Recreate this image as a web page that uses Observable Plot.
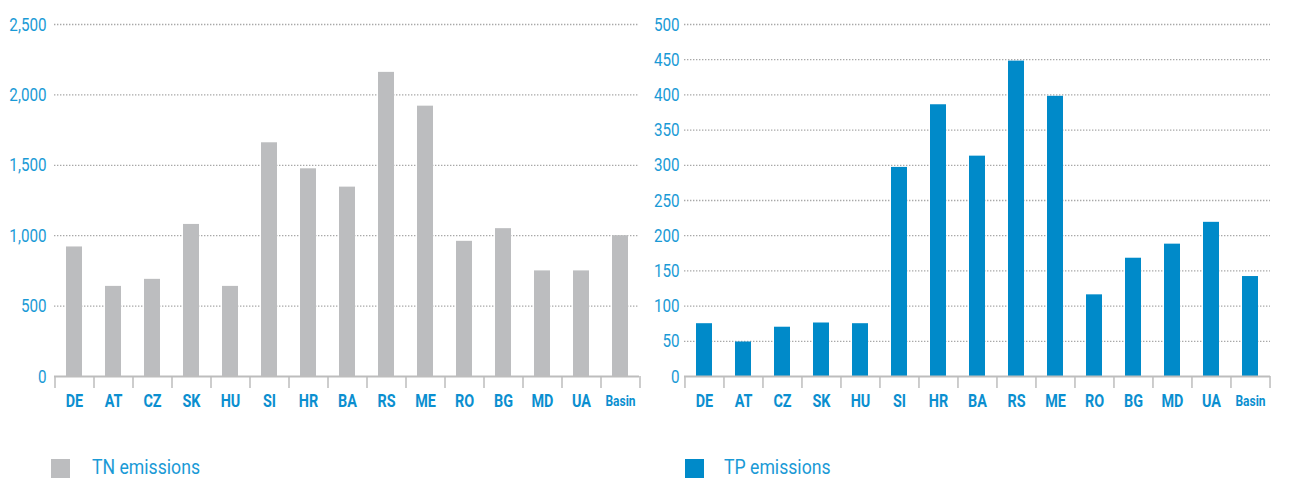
<!DOCTYPE html>
<html>
<head>
<meta charset="utf-8">
<script src="https://cdn.jsdelivr.net/npm/d3@7"></script>
<script src="https://cdn.jsdelivr.net/npm/@observablehq/plot@0.6"></script>
<style>
  html, body { margin: 0; padding: 0; background: #fff; }
  #wrap { position: relative; width: 1290px; height: 479px; overflow: hidden; font-family: Roboto, "DejaVu Sans Condensed", sans-serif; }
  .panel { position: absolute; top: 0; }
  .sw { position: absolute; top: 459px; width: 19px; height: 19px; }
  .lt { position: absolute; top: 457px; color: #1a9ad6; font-size: 21px; line-height: 20px; font-weight: 400; white-space: nowrap; transform: scaleX(0.84); transform-origin: left center; }
</style>
</head>
<body>
<div id="wrap">
  <div class="panel" id="left" style="left:0px"></div>
  <div class="panel" id="right" style="left:645px"></div>
  <div class="sw" style="left:51px; background:#bcbdbf"></div>
  <div class="lt" style="left:92px">TN emissions</div>
  <div class="sw" style="left:685px; background:#008ac9"></div>
  <div class="lt" style="left:724px">TP emissions</div>
</div>
<script>
const countries = ["DE","AT","CZ","SK","HU","SI","HR","BA","RS","ME","RO","BG","MD","UA","Basin"];
const tnValues = [920, 640, 690, 1080, 640, 1660, 1475, 1345, 2160, 1920, 960, 1050, 750, 750, 1000];
const tpValues = [75, 49, 70, 76, 75, 297, 386, 313, 448, 398, 116, 168, 188, 219, 142];
const tnTicks = [0, 500, 1000, 1500, 2000, 2500];
const tpTicks = [0, 50, 100, 150, 200, 250, 300, 350, 400, 450, 500];

const textBlue = "#1a9ad6";
const labelBlue = "#0b8fd0";

function chart({values, ticks, max, fill, marginLeft, marginRight, tickPadding, format}) {
  const width = 645, height = 420;
  const data = countries.map((c, i) => ({c, v: values[i]}));
  const step = (width - marginLeft - marginRight) / countries.length;
  return Plot.plot({
    width, height,
    marginTop: 24, marginBottom: 44, marginLeft, marginRight,
    style: {fontFamily: "Roboto, 'DejaVu Sans Condensed', sans-serif", fontSize: "19px", color: textBlue, background: "#fff"},
    x: {domain: countries, paddingInner: 0.6, paddingOuter: 0.3, axis: null},
    y: {domain: [0, max], axis: null},
    marks: [
      Plot.gridY(ticks.filter(t => t > 0), {stroke: "#a8a8a8", strokeOpacity: 1, strokeDasharray: "1.4,1.6", strokeWidth: 1.3}),
      Plot.axisY(ticks, {tickSize: 0, tickPadding, tickFormat: format, fontSize: 19, fill: textBlue, label: null}),
      Plot.barY(data, {x: "c", y: "v", fill}),
      Plot.ruleY([0], {stroke: "#bdbdbd", strokeWidth: 2}),
      Plot.ruleX(countries, {x: d => d, y1: 0, y2: 0, insetBottom: -12, dx: -step / 2, stroke: "#bdbdbd", strokeWidth: 1.5}),
      Plot.ruleX(countries.slice(-1), {x: d => d, y1: 0, y2: 0, insetBottom: -12, dx: step / 2, stroke: "#bdbdbd", strokeWidth: 1.5}),
      Plot.text(countries.filter(c => c !== "Basin"), {x: d => d, y: 0, dy: 25, text: d => d, fontSize: 18, fontWeight: "bold", fill: labelBlue, lineAnchor: "middle"}),
      Plot.text(countries.filter(c => c === "Basin"), {x: d => d, y: 0, dy: 25, text: d => d, fontSize: 15, fontWeight: "bold", fill: labelBlue, lineAnchor: "middle"})
    ]
  });
}

// narrow the glyphs in place (condensed look), keeping each label anchored where Plot put it
function condense(svg, s) {
  d3.select(svg).selectAll("text").each(function() {
    const t = this.getAttribute("transform");
    if (t) this.setAttribute("transform", `${t} scale(${s},1)`);
  });
  return svg;
}

document.getElementById("left").append(condense(chart({
  values: tnValues, ticks: tnTicks, max: 2500, fill: "#bcbdbf",
  marginLeft: 54, marginRight: 6, tickPadding: 8, format: d3.format(",")
}), 0.8));
document.getElementById("right").append(condense(chart({
  values: tpValues, ticks: tpTicks, max: 500, fill: "#008ac9",
  marginLeft: 39, marginRight: 20, tickPadding: 5, format: d3.format("d")
}), 0.8));
</script>
</body>
</html>
